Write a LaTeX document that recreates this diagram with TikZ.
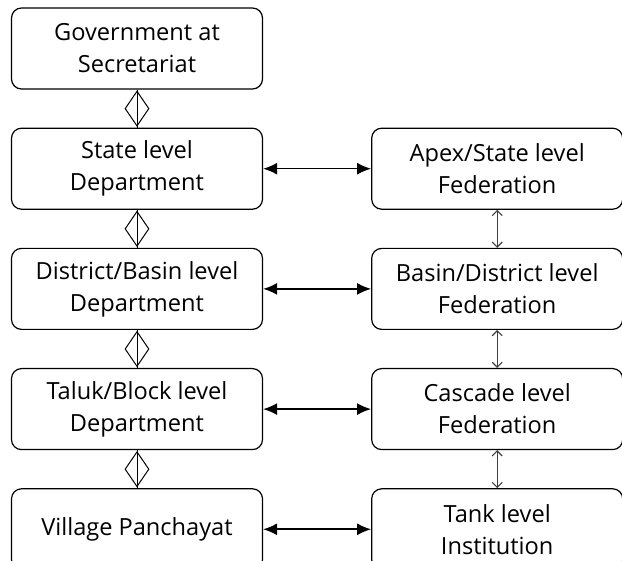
\documentclass[tikz,border=0pt]{standalone}
\usepackage{fontspec}
\setmainfont{Open Sans}
\usetikzlibrary{positioning,shapes.geometric,arrows.meta}

\begin{document}
\begin{tikzpicture}[
  box/.style={draw, rounded corners=5pt, line width=0.6pt, minimum width=125.5pt, minimum height=40.5pt, align=center, font=\fontsize{11.8}{16}\selectfont},
  agg/.style={draw, diamond, minimum width=12pt, minimum height=17.5pt, inner sep=0pt, line width=0.5pt},
  link/.style={{Latex[length=7pt,width=6pt]}-{Latex[length=7pt,width=6pt]}, line width=0.8pt},
  fedlink/.style={{Straight Barb[length=2.5pt,width=5pt]}-{Straight Barb[length=2.5pt,width=5pt]}, line width=0.55pt, black!75},
  node distance=19pt and 54pt
]
\useasboundingbox (0,0) rectangle (311pt,-280.5pt);
\node [box] (gov) at (68.5pt,-24.25pt) {Government at\\Secretariat};
\node [box, below=of gov] (state) {State level\\Department};
\node [box, below=of state] (district) {District/Basin level\\Department};
\node [box, below=of district] (taluk) {Taluk/Block level\\Department};
\node [box, below=of taluk] (village) {Village Panchayat};
\node [box, right=of state] (apex) {Apex/State level\\Federation};
\node [box, right=of district] (basin) {Basin/District level\\Federation};
\node [box, right=of taluk] (cascade) {Cascade level\\Federation};
\node [box, right=of village] (tank) {Tank level\\Institution};
\draw [line width=0.5pt] (gov) -- node [agg] (d1) {} (state);
\draw [line width=0.5pt] (state) -- node [agg] (d2) {} (district);
\draw [line width=0.5pt] (district) -- node [agg] (d3) {} (taluk);
\draw [line width=0.5pt] (taluk) -- node [agg] (d4) {} (village);
\draw [link] (state) -- (apex);
\draw [link] (district) -- (basin);
\draw [link] (taluk) -- (cascade);
\draw [link] (village) -- (tank);
\draw [fedlink] (apex) -- (basin);
\draw [fedlink] (basin) -- (cascade);
\draw [fedlink] (cascade) -- (tank);
\end{tikzpicture}
\end{document}
